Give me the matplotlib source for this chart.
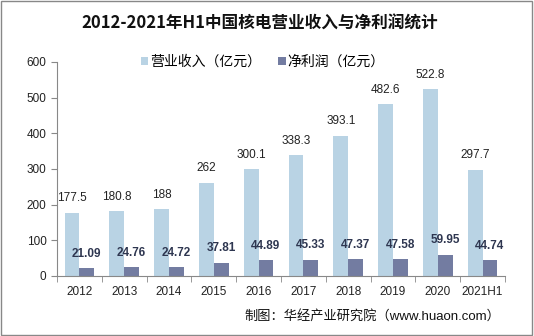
import matplotlib
matplotlib.use("Agg")
import matplotlib.pyplot as plt
import numpy as np
from matplotlib.patches import Rectangle

plt.rcParams['font.family'] = ['Liberation Sans', 'Noto Sans CJK SC']

years = ["2012", "2013", "2014", "2015", "2016", "2017", "2018", "2019", "2020", "2021H1"]
revenue = [177.5, 180.8, 188, 262, 300.1, 338.3, 393.1, 482.6, 522.8, 297.7]
revenue_labels = ["177.5", "180.8", "188", "262", "300.1", "338.3", "393.1", "482.6", "522.8", "297.7"]
profit = [21.09, 24.76, 24.72, 37.81, 44.89, 45.33, 47.37, 47.58, 59.95, 44.74]
profit_labels = ["21.09", "24.76", "24.72", "37.81", "44.89", "45.33", "47.37", "47.58", "59.95", "44.74"]

c_rev = "#B9D3E4"
c_pro = "#737CA1"

fig = plt.figure(figsize=(5.34, 3.36), dpi=100)
ax = fig.add_axes([0.1067, 0.1786, 0.839, 0.637])

x = np.arange(len(years))
w = 0.33
b1 = ax.bar(x - w / 2, revenue, w, color=c_rev, label="营业收入（亿元）")
b2 = ax.bar(x + w / 2, profit, w, color=c_pro, label="净利润（亿元）")

for xi, v, s in zip(x, revenue, revenue_labels):
    ax.annotate(s, (xi - w / 2, v), xytext=(0, 6), textcoords="offset points",
                ha="center", va="bottom", fontsize=8.5, color="#222222")
for xi, v, s in zip(x, profit, profit_labels):
    ax.annotate(s, (xi + w / 2, v), xytext=(0, 6), textcoords="offset points",
                ha="center", va="bottom", fontsize=8.5, color="#2E3650", fontweight="bold")

ax.set_xlim(-0.5, len(years) - 0.5)
ax.set_ylim(0, 600)
ax.set_yticks(range(0, 601, 100))
ax.set_xticks(x)
ax.set_xticklabels(years)
ax.set_xticks(np.arange(-0.5, len(years)), minor=True)
ax.tick_params(axis="x", which="major", length=0, labelsize=8.5, pad=7, labelcolor="#222222")
ax.tick_params(axis="x", which="minor", length=4, color="#888888", direction="out")
ax.tick_params(axis="y", length=4, color="#888888", labelsize=8.5, labelcolor="#222222")
for s in ["top", "right"]:
    ax.spines[s].set_visible(False)
for s in ["left", "bottom"]:
    ax.spines[s].set_color("#888888")
    ax.spines[s].set_linewidth(0.8)

leg = fig.legend(handles=[b1, b2], loc="center", bbox_to_anchor=(0.492, 0.815), ncol=2,
                 frameon=False, fontsize=10, handlelength=0.55, handleheight=0.55,
                 handletextpad=0.15, columnspacing=1.2)

fig.text(0.487, 0.93, "2012-2021年H1中国核电营业收入与净利润统计", ha="center", va="center",
         fontsize=12, fontweight="bold", color="#111111",
         family=['Noto Sans CJK SC', 'DejaVu Sans'])
fig.text(0.937, 0.058, "制图：华经产业研究院（www.huaon.com）", ha="right", va="center",
         fontsize=9.5, color="#111111")

fig.add_artist(Rectangle((0.002, 0.003), 0.995, 0.994, transform=fig.transFigure,
                         fill=False, edgecolor="#888888", linewidth=1))

fig.savefig("out.png", dpi=100)
